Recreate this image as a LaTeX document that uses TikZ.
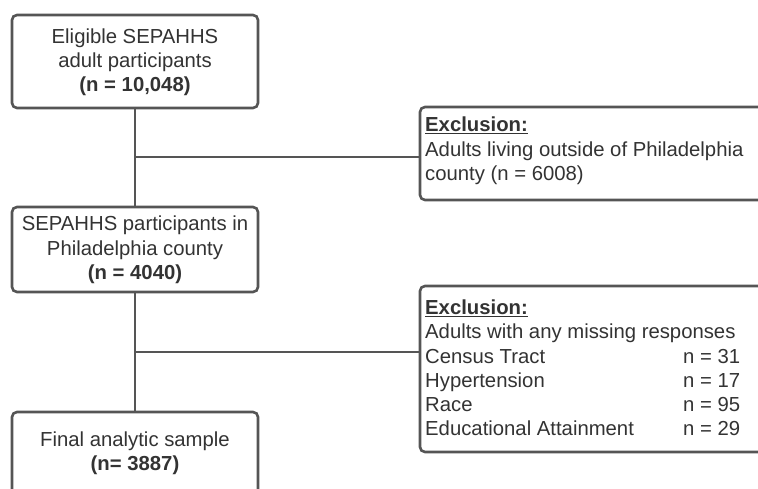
\documentclass[tikz,border=0pt]{standalone}
\usepackage{fontspec}
\setmainfont{Liberation Sans}
\definecolor{boxc}{HTML}{555555}
\definecolor{txtc}{HTML}{333333}
\begin{document}
\begin{tikzpicture}[x=1pt,y=-1pt,
  box/.style={draw=boxc, line width=2.6pt, rounded corners=5pt, fill=white, inner sep=0pt},
  conn/.style={draw=boxc, line width=2pt},
  txt/.style={text=txtc, font=\fontsize{20.3}{24.3}\selectfont, inner sep=0pt}]
\useasboundingbox (0,0) rectangle (758,489);
\clip (0,0) rectangle (758,489);
\fill[white] (0,0) rectangle (758,489);
% main boxes
\node[box, minimum width=246pt, minimum height=93pt] (b1) at (135,61.5) {};
\node[box, minimum width=246pt, minimum height=85pt] (b2) at (135,249.5) {};
\node[box, minimum width=246pt, minimum height=110pt] (b3) at (135,467) {};
% exclusion boxes
\node[box, minimum width=380pt, minimum height=93pt] (e1) at (610,153.5) {};
\node[box, minimum width=380pt, minimum height=166pt] (e2) at (610,369) {};
% connectors
\coordinate (j1) at (135,157);
\coordinate (j2) at (135,352);
\draw[conn] (b1.south) -- (b2.north);
\draw[conn] (b2.south) -- (b3.north);
\draw[conn] (j1) -- (j1 -| e1.west);
\draw[conn] (j2) -- (j2 -| e2.west);
% texts
\node[txt, align=center] (t1) at (135,62.3) {Eligible SEPAHHS\\adult participants\\\textbf{(n = 10,048)}};
\node[txt, align=center] (t2) at (135,250) {SEPAHHS participants in\\Philadelphia county\\\textbf{(n = 4040)}};
\node[txt, align=center] (t3) at (135,453.5) {Final analytic sample\\\textbf{(n= 3887)}};
\node[txt, align=left, anchor=north west] (x1) at (425,117) {\underline{\textbf{Exclusion:}}\\Adults living outside of Philadelphia\\county (n = 6008)};
\node[txt, align=left, anchor=north west] (x2) at (425,299.5) {\underline{\textbf{Exclusion:}}\\Adults with any missing responses\\\makebox[258pt][l]{Census Tract}n = 31\\\makebox[258pt][l]{Hypertension}n = 17\\\makebox[258pt][l]{Race}n = 95\\\makebox[258pt][l]{Educational Attainment}n = 29};
\end{tikzpicture}
\end{document}
